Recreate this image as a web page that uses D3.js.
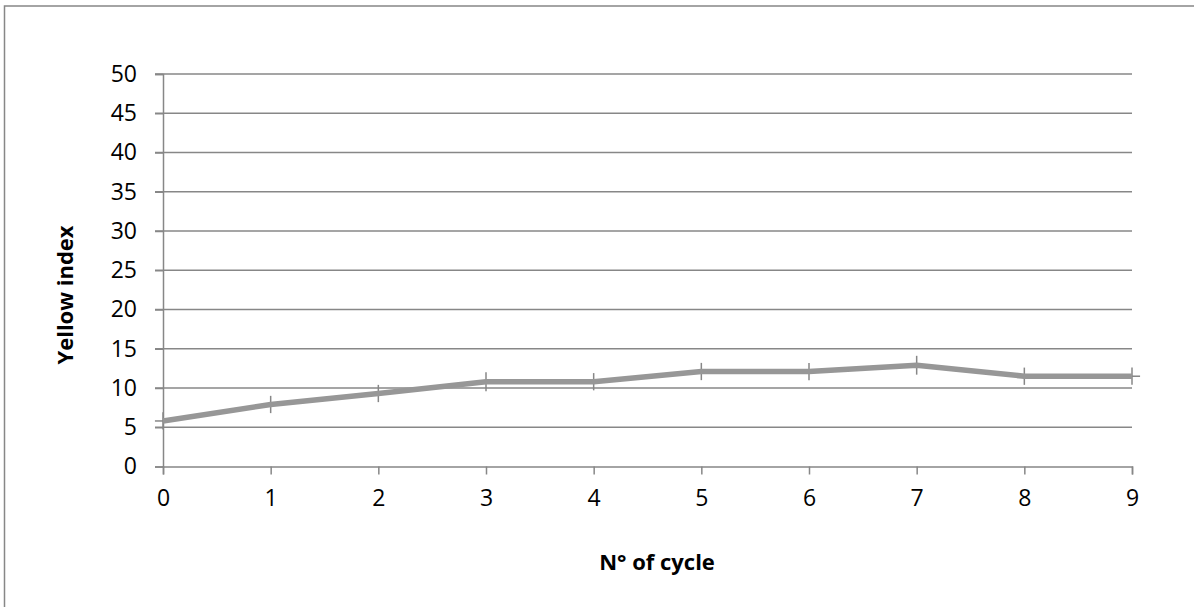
<!DOCTYPE html>
<html>
<head>
<meta charset="utf-8">
<script src="https://cdn.jsdelivr.net/npm/d3@7"></script>
<style>
  html, body { margin: 0; padding: 0; background: #fff; }
  svg { display: block; font-family: "Open Sans", "Noto Sans", sans-serif; }
</style>
</head>
<body>
<svg id="chart" width="1194" height="607"></svg>
<script>
// values
const cycles = [0, 1, 2, 3, 4, 5, 6, 7, 8, 9];
const yellowIndex = [5.8, 7.9, 9.3, 10.8, 10.8, 12.1, 12.1, 12.9, 11.5, 11.5];
const yErr = [1.1, 1.1, 1.1, 1.2, 1.1, 1.1, 1.1, 1.2, 1.1, 1.1];
const xErr = [0.075, 0.075, 0.075, 0.075, 0.075, 0.075, 0.075, 0.075, 0.075, 0.075];
const yTicks = [0, 5, 10, 15, 20, 25, 30, 35, 40, 45, 50];
const xTitle = "N° of cycle";
const yTitle = "Yellow index";

const W = 1194, H = 607;
const m = {left: 163, right: W - 1132, top: 74, bottom: H - 466.5};
const grey = "#878787";
const lineGrey = "#979797";

const svg = d3.select("#chart");

// outer chart frame (only top/left visible in picture)
svg.append("rect")
  .attr("x", 4.5).attr("y", 6)
  .attr("width", W + 20).attr("height", H + 20)
  .attr("fill", "none").attr("stroke", grey).attr("stroke-width", 1.5);

const x = d3.scaleLinear([0, 9], [m.left, W - m.right]);
const y = d3.scaleLinear([0, 50], [H - m.bottom, m.top]);

// gridlines
svg.append("g")
  .selectAll("line")
  .data(yTicks.filter(d => d > 0))
  .join("line")
  .attr("x1", x(0) - 8).attr("x2", x(9))
  .attr("y1", d => y(d)).attr("y2", d => y(d))
  .attr("stroke", grey).attr("stroke-width", 1.5);

// y axis
const gy = svg.append("g")
  .attr("transform", `translate(${x(0)},0)`)
  .call(d3.axisLeft(y).tickValues(yTicks).tickSize(8).tickPadding(18));
gy.select(".domain").attr("stroke", grey).attr("stroke-width", 1.5);
gy.selectAll(".tick line").attr("stroke", grey).attr("stroke-width", 1.5);
gy.selectAll(".tick text").attr("font-size", 23).attr("fill", "#000")
  .attr("font-family", "Open Sans");

// x axis
const gx = svg.append("g")
  .attr("transform", `translate(0,${y(0)})`)
  .call(d3.axisBottom(x).tickValues(cycles).tickSize(8).tickPadding(15));
gx.select(".domain").attr("stroke", grey).attr("stroke-width", 1.5);
gx.selectAll(".tick line").attr("stroke", grey).attr("stroke-width", 1.5);
gx.selectAll(".tick text").attr("font-size", 23).attr("fill", "#000")
  .attr("font-family", "Open Sans");

const pts = cycles.map((c, i) => ({x: c, y: yellowIndex[i], ey: yErr[i], ex: xErr[i]}));

// error bars
const eb = svg.append("g").attr("stroke", grey).attr("stroke-width", 1.5);
eb.selectAll("line.v").data(pts).join("line").attr("class", "v")
  .attr("x1", d => x(d.x)).attr("x2", d => x(d.x))
  .attr("y1", d => y(d.y - d.ey)).attr("y2", d => y(d.y + d.ey));
eb.selectAll("line.h").data(pts).join("line").attr("class", "h")
  .attr("x1", d => x(d.x - d.ex)).attr("x2", d => x(d.x + d.ex))
  .attr("y1", d => y(d.y)).attr("y2", d => y(d.y));

// series line
const line = d3.line(d => x(d.x), d => y(d.y));
svg.append("path")
  .datum(pts)
  .attr("d", line)
  .attr("fill", "none")
  .attr("stroke", lineGrey)
  .attr("stroke-width", 5.5)
  .attr("stroke-linejoin", "round");

// axis titles
svg.append("text")
  .attr("x", 657).attr("y", 570)
  .attr("text-anchor", "middle")
  .attr("font-size", 22).attr("font-weight", "bold")
  .text(xTitle);

svg.append("text")
  .attr("transform", "translate(73,295) rotate(-90)")
  .attr("text-anchor", "middle")
  .attr("font-size", 22).attr("font-weight", "bold")
  .text(yTitle);
</script>
</body>
</html>
